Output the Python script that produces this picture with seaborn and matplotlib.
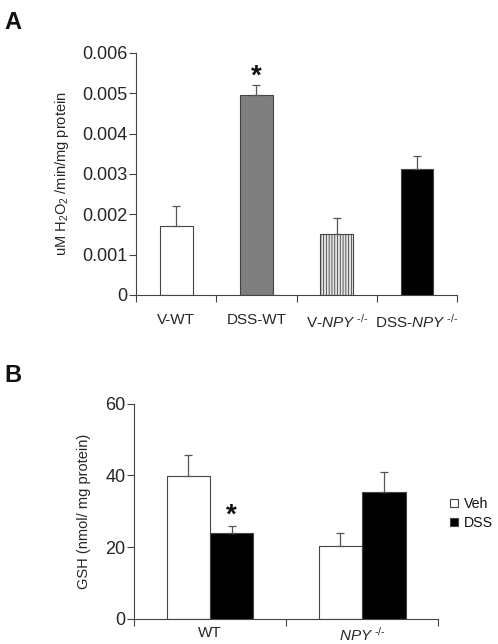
import numpy as np
import pandas as pd
import seaborn as sns
import matplotlib
matplotlib.use("Agg")
import matplotlib.pyplot as plt
from matplotlib.ticker import FixedLocator

# panel A: H2O2 production
a_groups = ["V-WT", "DSS-WT", "V-NPY", "DSS-NPY"]
a_labels = ["V-WT", "DSS-WT", r"V-$\mathit{NPY}^{\text{ -/-}}$", r"DSS-$\mathit{NPY}^{\text{ -/-}}$"]
a_values = [0.0017, 0.00495, 0.0015, 0.00312]
a_err = [0.0005, 0.00025, 0.0004, 0.00033]
a_colors = ["white", "#7f7f7f", "#e4e4e4", "black"]

# panel B: GSH
b_genotype = ["WT", "WT", "NPY", "NPY"]
b_treat = ["Veh", "DSS", "Veh", "DSS"]
b_values = [39.8, 24.0, 20.3, 35.5]
b_err = [6.0, 2.0, 3.7, 5.5]
b_labels = ["WT", r"$\mathit{NPY}^{\text{ -/-}}$"]

sns.set_style("ticks")
plt.rcParams['font.family'] = ['Liberation Sans', 'DejaVu Sans']
plt.rcParams['mathtext.fontset'] = 'custom'
plt.rcParams['mathtext.rm'] = 'Liberation Sans'
plt.rcParams['mathtext.it'] = 'Liberation Sans:italic'
plt.rcParams['hatch.color'] = '#888888'
plt.rcParams['hatch.linewidth'] = 0.6
plt.rcParams['text.color'] = '#111111'

fig = plt.figure(figsize=(4.98, 6.44), dpi=100)
axA = fig.add_axes([0.273, 0.542, 0.645, 0.376])
axB = fig.add_axes([0.269, 0.039, 0.611, 0.334])

edge = "#444444"

# ---- A
dfa = pd.DataFrame({"group": a_groups, "val": a_values})
sns.barplot(data=dfa, x="group", y="val", hue="group", palette=a_colors,
            width=0.41, edgecolor=edge, linewidth=0.8, legend=False, ax=axA)
for i, p in enumerate(axA.patches):
    if a_groups[i] == "V-NPY":
        p.set_hatch("||||||")
    xc = p.get_x() + p.get_width() / 2
    axA.errorbar(xc, a_values[i], yerr=[[0], [a_err[i]]], fmt="none",
                 ecolor="#555555", elinewidth=0.9, capsize=3, capthick=0.9)
axA.text(1, a_values[1] + a_err[1] + 0.00022, "*", ha="center", va="center",
         fontsize=20, fontweight="bold")
axA.set_xlim(-0.5, 3.5)
axA.set_ylim(0, 0.006)
axA.set_yticks([0, 0.001, 0.002, 0.003, 0.004, 0.005, 0.006])
axA.set_yticklabels(["0", "0.001", "0.002", "0.003", "0.004", "0.005", "0.006"])
axA.set_xticks(range(4))
axA.set_xticklabels(a_labels)
axA.xaxis.set_minor_locator(FixedLocator([-0.5, 0.5, 1.5, 2.5, 3.5]))
axA.tick_params(axis="x", which="major", length=0, pad=13, labelsize=11)
axA.tick_params(axis="x", which="minor", length=5, width=0.8, color="#444444")
axA.tick_params(axis="y", length=5, width=0.8, color="#444444", labelsize=13, pad=1)
axA.set_xlabel("")
axA.set_ylabel(r"uM H$_2$O$_2$ /min/mg protein", fontsize=10.5, labelpad=8)
sns.despine(ax=axA)
for s in ["left", "bottom"]:
    axA.spines[s].set_color("#444444")
    axA.spines[s].set_linewidth(0.8)

# ---- B
dfb = pd.DataFrame({"genotype": b_genotype, "treat": b_treat, "val": b_values})
sns.barplot(data=dfb, x="genotype", y="val", hue="treat",
            palette={"Veh": "white", "DSS": "black"}, width=0.57,
            edgecolor=edge, linewidth=0.8, ax=axB)
for p in axB.patches[:4]:
    xc = p.get_x() + p.get_width() / 2
    h = p.get_height()
    j = b_values.index(h)
    axB.errorbar(xc, h, yerr=[[0], [b_err[j]]], fmt="none",
                 ecolor="#555555", elinewidth=0.9, capsize=3, capthick=0.9)
    if b_genotype[j] == "WT" and b_treat[j] == "DSS":
        axB.text(xc, h + b_err[j] + 2.9, "*", ha="center", va="center",
                 fontsize=20, fontweight="bold")
axB.set_xlim(-0.5, 1.5)
axB.set_ylim(0, 60)
axB.set_yticks([0, 20, 40, 60])
axB.set_xticks(range(2))
axB.set_xticklabels(b_labels)
axB.xaxis.set_minor_locator(FixedLocator([-0.5, 0.5, 1.5]))
axB.tick_params(axis="x", which="major", length=0, pad=5, labelsize=11)
axB.tick_params(axis="x", which="minor", length=5, width=0.8, color="#444444")
axB.tick_params(axis="y", length=5, width=0.8, color="#444444", labelsize=13, pad=1)
axB.set_xlabel("")
axB.set_ylabel("GSH (nmol/ mg protein)", fontsize=10.5, labelpad=10)
sns.despine(ax=axB)
for s in ["left", "bottom"]:
    axB.spines[s].set_color("#444444")
    axB.spines[s].set_linewidth(0.8)
leg = axB.legend(loc="center left", bbox_to_anchor=(1.04, 0.49), frameon=False,
                 fontsize=10.2, handlelength=0.55, handleheight=0.55,
                 handletextpad=0.4, labelspacing=0.35, borderaxespad=0,
                 borderpad=0)

fig.text(0.008, 0.965, "A", fontsize=17, fontweight="bold", va="center")
fig.text(0.008, 0.417, "B", fontsize=17, fontweight="bold", va="center")

fig.savefig("out.png", dpi=100)
